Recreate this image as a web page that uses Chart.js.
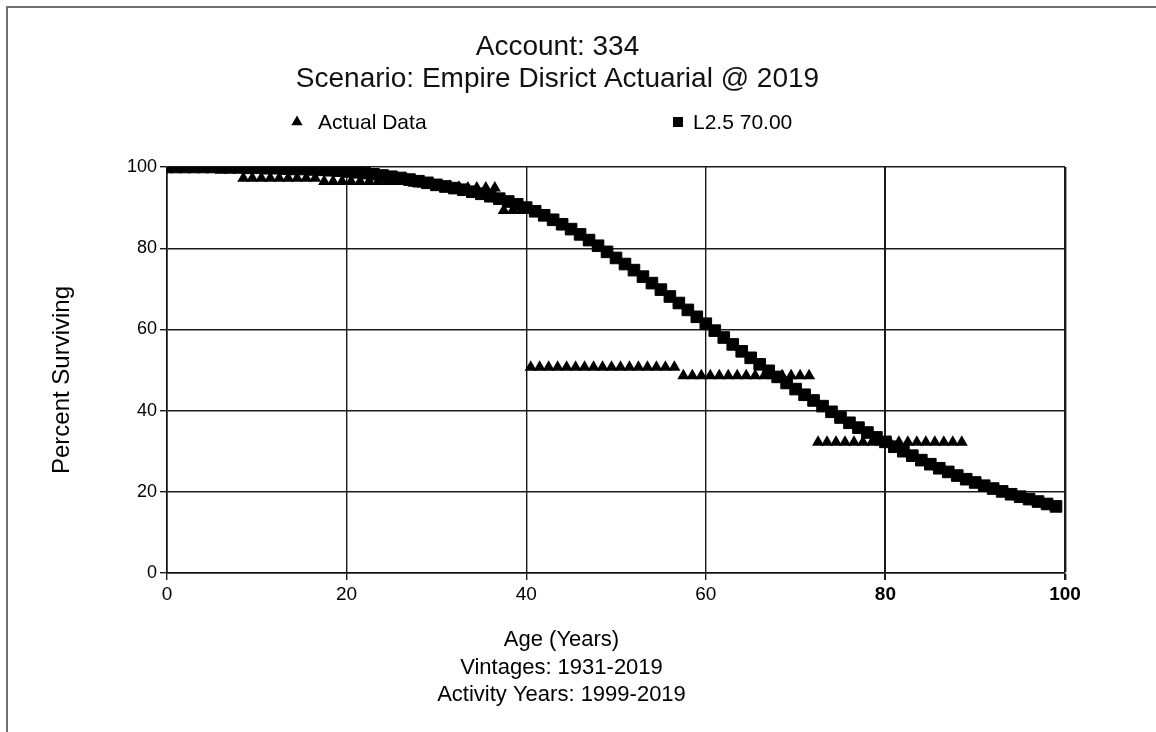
<!DOCTYPE html>
<html>
<head>
<meta charset="utf-8">
<script src="https://cdn.jsdelivr.net/npm/chart.js@4.4.1/dist/chart.umd.min.js"></script>
<style>
  html, body { margin: 0; padding: 0; background: #fff; }
  #wrap { width: 1156px; height: 732px; position: relative; }
</style>
</head>
<body>
<div id="wrap"><canvas id="c" width="1156" height="732"></canvas></div>
<script>
// Iowa L2.5 curve, 70.00 year average life: percent surviving by age
const curveAges = [
  0, 1, 2, 3, 4, 5, 6, 7, 8, 9,
  10, 11, 12, 13, 14, 15, 16, 17, 18, 19,
  20, 21, 22, 23, 24, 25, 26, 27, 28, 29,
  30, 31, 32, 33, 34, 35, 36, 37, 38, 39,
  40, 41, 42, 43, 44, 45, 46, 47, 48, 49,
  50, 51, 52, 53, 54, 55, 56, 57, 58, 59,
  60, 61, 62, 63, 64, 65, 66, 67, 68, 69,
  70, 71, 72, 73, 74, 75, 76, 77, 78, 79,
  80, 81, 82, 83, 84, 85, 86, 87, 88, 89,
  90, 91, 92, 93, 94, 95, 96, 97, 98, 99
];
const curvePct = [
  100.0, 100.0, 100.0, 100.0, 100.0, 100.0, 99.9, 99.9, 99.9, 99.8,
  99.8, 99.7, 99.7, 99.6, 99.5, 99.5, 99.4, 99.3, 99.2, 99.1,
  98.9, 98.7, 98.5, 98.2, 97.9, 97.6, 97.3, 96.9, 96.5, 96.1,
  95.6, 95.2, 94.8, 94.4, 93.9, 93.4, 92.8, 92.2, 91.5, 90.8,
  90.0, 89.1, 88.1, 87.0, 85.9, 84.7, 83.4, 82.0, 80.6, 79.1,
  77.6, 76.1, 74.6, 73.0, 71.4, 69.8, 68.1, 66.5, 64.8, 63.1,
  61.4, 59.7, 58.0, 56.3, 54.6, 53.0, 51.4, 49.8, 48.3, 46.8,
  45.3, 43.9, 42.5, 41.1, 39.7, 38.3, 37.0, 35.8, 34.6, 33.4,
  32.3, 31.1, 30.0, 28.9, 27.8, 26.8, 25.8, 24.9, 24.0, 23.1,
  22.3, 21.5, 20.8, 20.1, 19.4, 18.8, 18.2, 17.6, 17.0, 16.4
];

// Observed retirement experience, plotted at interval midpoints
const actualAges = [
  0.5, 1.5, 2.5, 3.5, 4.5, 5.5, 6.5, 7.5, 8.5, 9.5,
  10.5, 11.5, 12.5, 13.5, 14.5, 15.5, 16.5, 17.5, 18.5, 19.5,
  20.5, 21.5, 22.5, 23.5, 24.5, 25.5, 26.5, 27.5, 28.5, 29.5,
  30.5, 31.5, 32.5, 33.5, 34.5, 35.5, 36.5, 37.5, 38.5, 39.5,
  40.5, 41.5, 42.5, 43.5, 44.5, 45.5, 46.5, 47.5, 48.5, 49.5,
  50.5, 51.5, 52.5, 53.5, 54.5, 55.5, 56.5, 57.5, 58.5, 59.5,
  60.5, 61.5, 62.5, 63.5, 64.5, 65.5, 66.5, 67.5, 68.5, 69.5,
  70.5, 71.5, 72.5, 73.5, 74.5, 75.5, 76.5, 77.5, 78.5, 79.5,
  80.5, 81.5, 82.5, 83.5, 84.5, 85.5, 86.5, 87.5, 88.5
];
const actualPct = [
  100.0, 100.0, 100.0, 100.0, 100.0, 100.0, 100.0, 100.0, 97.2, 97.2,
  97.2, 97.2, 97.2, 97.2, 97.2, 97.2, 97.2, 96.4, 96.4, 96.4,
  96.4, 96.4, 96.4, 96.4, 96.4, 96.4, 96.4, 96.0, 95.8, 95.6,
  95.4, 95.2, 95.0, 94.8, 94.8, 94.8, 94.8, 89.3, 89.3, 89.3,
  50.7, 50.7, 50.7, 50.7, 50.7, 50.7, 50.7, 50.7, 50.7, 50.7,
  50.7, 50.7, 50.7, 50.7, 50.7, 50.7, 50.7, 48.6, 48.6, 48.6,
  48.6, 48.6, 48.6, 48.6, 48.6, 48.6, 48.6, 48.6, 48.6, 48.6,
  48.6, 48.6, 32.2, 32.2, 32.2, 32.2, 32.2, 32.2, 32.2, 32.2,
  32.2, 32.2, 32.2, 32.2, 32.2, 32.2, 32.2, 32.2, 32.2
];

const xTicks = [0, 20, 40, 60, 80, 100];
const yTicks = [0, 20, 40, 60, 80, 100];
const titleLines = ['Account: 334', 'Scenario: Empire Disrict Actuarial @ 2019'];
const xTitleLines = ['Age (Years)', 'Vintages: 1931-2019', 'Activity Years: 1999-2019'];
const yTitle = 'Percent Surviving';
const seriesNames = ['Actual Data', 'L2.5 70.00'];

const FONT = "'Liberation Sans', Arial, Helvetica, sans-serif";
Chart.defaults.font.family = FONT;
Chart.defaults.color = '#000';

const toPoints = (xs, ys) => xs.map((x, i) => ({ x: x, y: ys[i] }));

// White page with the thin grey frame along the top and left edges
const pageFrame = {
  id: 'pageFrame',
  beforeDraw(chart) {
    const ctx = chart.ctx;
    ctx.save();
    ctx.fillStyle = '#fff';
    ctx.fillRect(0, 0, chart.width, chart.height);
    ctx.strokeStyle = '#707070';
    ctx.lineWidth = 2;
    ctx.beginPath();
    ctx.moveTo(7, chart.height);
    ctx.lineTo(7, 7);
    ctx.lineTo(chart.width, 7);
    ctx.stroke();
    ctx.restore();
  }
};

// Legend row with the two series spread across the plot width
const spreadLegend = {
  id: 'spreadLegend',
  afterDraw(chart) {
    const ctx = chart.ctx;
    const area = chart.chartArea;
    const y = area.top - 45;
    const slots = [
      { mark: area.left + 130, text: area.left + 151 },
      { mark: area.left + 511, text: area.left + 526 }
    ];
    ctx.save();
    ctx.font = '21px ' + FONT;
    ctx.textBaseline = 'middle';
    ctx.textAlign = 'left';
    chart.data.datasets.forEach((ds, i) => {
      const cx = slots[i].mark;
      ctx.fillStyle = '#000';
      ctx.beginPath();
      if (ds.pointStyle === 'triangle') {
        const r = 6.5;
        ctx.moveTo(cx, y - r);
        ctx.lineTo(cx + r * 0.866, y + r / 2);
        ctx.lineTo(cx - r * 0.866, y + r / 2);
        ctx.closePath();
      } else {
        ctx.rect(cx - 5, y - 5, 10, 10);
      }
      ctx.fill();
      ctx.fillText(ds.label, slots[i].text, y + 1);
    });
    ctx.restore();
  }
};

// Axis captions: three lines under the age axis, rotated label beside the percent axis
const axisCaptions = {
  id: 'axisCaptions',
  afterDraw(chart) {
    const ctx = chart.ctx;
    const area = chart.chartArea;
    const cx = (chart.scales.y.left + area.right) / 2 + 4;
    const firstY = area.bottom + 67;
    const step = 27.5;
    ctx.save();
    ctx.fillStyle = '#000';
    ctx.textAlign = 'center';
    ctx.textBaseline = 'middle';
    ctx.font = '22px ' + FONT;
    xTitleLines.forEach((line, i) => ctx.fillText(line, cx, firstY + i * step));
    ctx.translate(chart.scales.y.left + 12, (area.top + area.bottom) / 2 + 10);
    ctx.rotate(-Math.PI / 2);
    ctx.font = '24px ' + FONT;
    ctx.fillText(yTitle, 0, 0);
    ctx.restore();
  }
};

new Chart(document.getElementById('c'), {
  type: 'scatter',
  data: {
    datasets: [
      {
        label: seriesNames[0],
        data: toPoints(actualAges, actualPct),
        pointStyle: 'triangle',
        pointRadius: 7,
        pointBackgroundColor: '#000',
        pointBorderColor: '#000',
        pointBorderWidth: 0,
        showLine: false
      },
      {
        label: seriesNames[1],
        data: toPoints(curveAges, curvePct),
        pointStyle: 'rect',
        pointRadius: 8.2,
        pointBackgroundColor: '#000',
        pointBorderColor: '#000',
        pointBorderWidth: 1,
        showLine: false
      }
    ]
  },
  options: {
    responsive: false,
    animation: false,
    events: [],
    devicePixelRatio: 1,
    layout: { padding: { left: 50, right: 91, top: 10, bottom: 23 } },
    plugins: {
      legend: { display: false },
      tooltip: { enabled: false },
      title: {
        display: true,
        text: titleLines,
        color: '#111',
        font: { size: 28, weight: 'normal', lineHeight: 1.15 },
        padding: { top: 21, bottom: 71.6 }
      }
    },
    scales: {
      x: {
        type: 'linear',
        min: 0,
        max: 100,
        afterBuildTicks: (scale) => { scale.ticks = xTicks.map(v => ({ value: v })); },
        afterFit: (scale) => { scale.height = 136; },
        ticks: {
          padding: 3,
          color: '#000',
          font: (c) => ({ size: 19, weight: (c.tick && c.tick.value >= 80) ? 'bold' : 'normal' })
        },
        grid: {
          color: '#1a1a1a',
          lineWidth: (c) => (c.tick && c.tick.value === 100) ? 2.4 : ((c.tick && c.tick.value === 80) ? 2 : 1.4),
          tickLength: 7,
          drawTicks: true
        },
        border: { display: true, color: '#111', width: 1.6 },
        title: { display: false }
      },
      y: {
        type: 'linear',
        min: 0,
        max: 100,
        afterBuildTicks: (scale) => { scale.ticks = yTicks.map(v => ({ value: v })); },
        afterFit: (scale) => { scale.width = 117; },
        ticks: { padding: 3, color: '#000', font: { size: 18 } },
        grid: { color: '#1a1a1a', lineWidth: 1.4, tickLength: 7, drawTicks: true },
        border: { display: true, color: '#111', width: 1.6 },
        title: { display: false }
      }
    }
  },
  plugins: [pageFrame, spreadLegend, axisCaptions]
});
</script>
</body>
</html>
